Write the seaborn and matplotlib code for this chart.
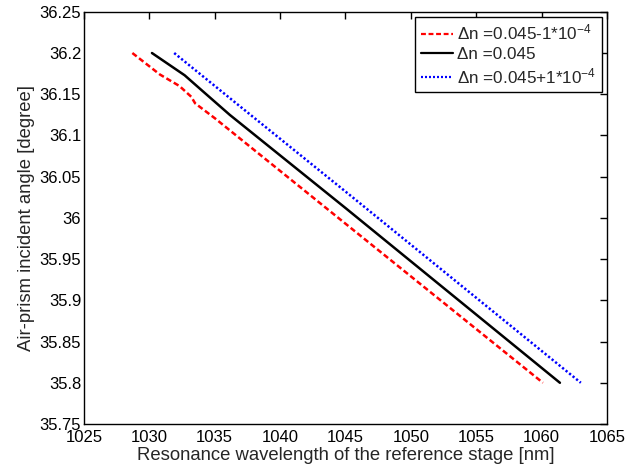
import pandas as pd
import matplotlib
matplotlib.use('Agg')
import matplotlib.pyplot as plt
import seaborn as sns

# Data (wavelength [nm], angle [degree])
red_wl = [1028.7, 1030.8, 1032.3, 1033.2, 1033.5, 1035.0, 1045.0, 1060.1]
red_ang = [36.200, 36.174, 36.160, 36.147, 36.139, 36.121, 35.993, 35.800]

black_wl = [1030.2, 1032.7, 1033.99, 1036.15, 1045.0, 1061.4]
black_ang = [36.200, 36.173, 36.155, 36.125, 36.012, 35.800]

blue_wl = [1031.9, 1036.8, 1045.0, 1063.0]
blue_ang = [36.200, 36.137, 36.032, 35.800]

labels = ['Δn =0.045-1*10$^{-4}$', 'Δn =0.045', 'Δn =0.045+1*10$^{-4}$']

sns.set_style('white')
plt.rcParams['font.family'] = ['Liberation Sans', 'DejaVu Sans']
plt.rcParams['mathtext.fontset'] = 'custom'
plt.rcParams['mathtext.rm'] = 'Liberation Sans'
plt.rcParams['mathtext.it'] = 'Liberation Sans:italic'

fig = plt.figure(figsize=(6.29, 4.72), dpi=100)
ax = fig.add_axes([0.1335, 0.1017, 0.8315, 0.8733])

sns.lineplot(x=red_wl, y=red_ang, color='red', linewidth=1.8,
             label=labels[0], ax=ax, dashes=False)
sns.lineplot(x=black_wl, y=black_ang, color='black', linestyle='-', linewidth=1.8,
             label=labels[1], ax=ax)
sns.lineplot(x=blue_wl, y=blue_ang, color='blue', linewidth=1.8,
             label=labels[2], ax=ax)
ax.lines[0].set_dashes((2.2, 1.2))
ax.lines[2].set_dashes((0.9, 0.9))

ax.set_xlim(1025, 1065)
ax.set_ylim(35.75, 36.25)
ax.set_xticks(range(1025, 1066, 5))
ax.set_yticks([35.75, 35.8, 35.85, 35.9, 35.95, 36, 36.05, 36.1, 36.15, 36.2, 36.25])
ax.set_yticklabels(['35.75', '35.8', '35.85', '35.9', '35.95', '36', '36.05',
                    '36.1', '36.15', '36.2', '36.25'])
ax.tick_params(direction='in', top=True, right=True, length=5, width=1,
               labelsize=12, colors='black', pad=2)
ax.tick_params(axis='x', pad=4)
for s in ax.spines.values():
    s.set_color('black')
    s.set_linewidth(1)

ax.set_xlabel('Resonance wavelength of the reference stage [nm]', fontsize=13.3, labelpad=2)
ax.set_ylabel('Air-prism incident angle [degree]', fontsize=13.3, labelpad=3)

leg = ax.legend(loc='upper right', fontsize=12.3, fancybox=False, framealpha=1,
                edgecolor='black', handlelength=1.9, handletextpad=0.2,
                borderpad=0.35, labelspacing=0.25, borderaxespad=0.3)
leg.get_frame().set_linewidth(1)
for h in leg.get_lines():
    h.set_linewidth(1.6)

fig.savefig('out.png', dpi=100)
